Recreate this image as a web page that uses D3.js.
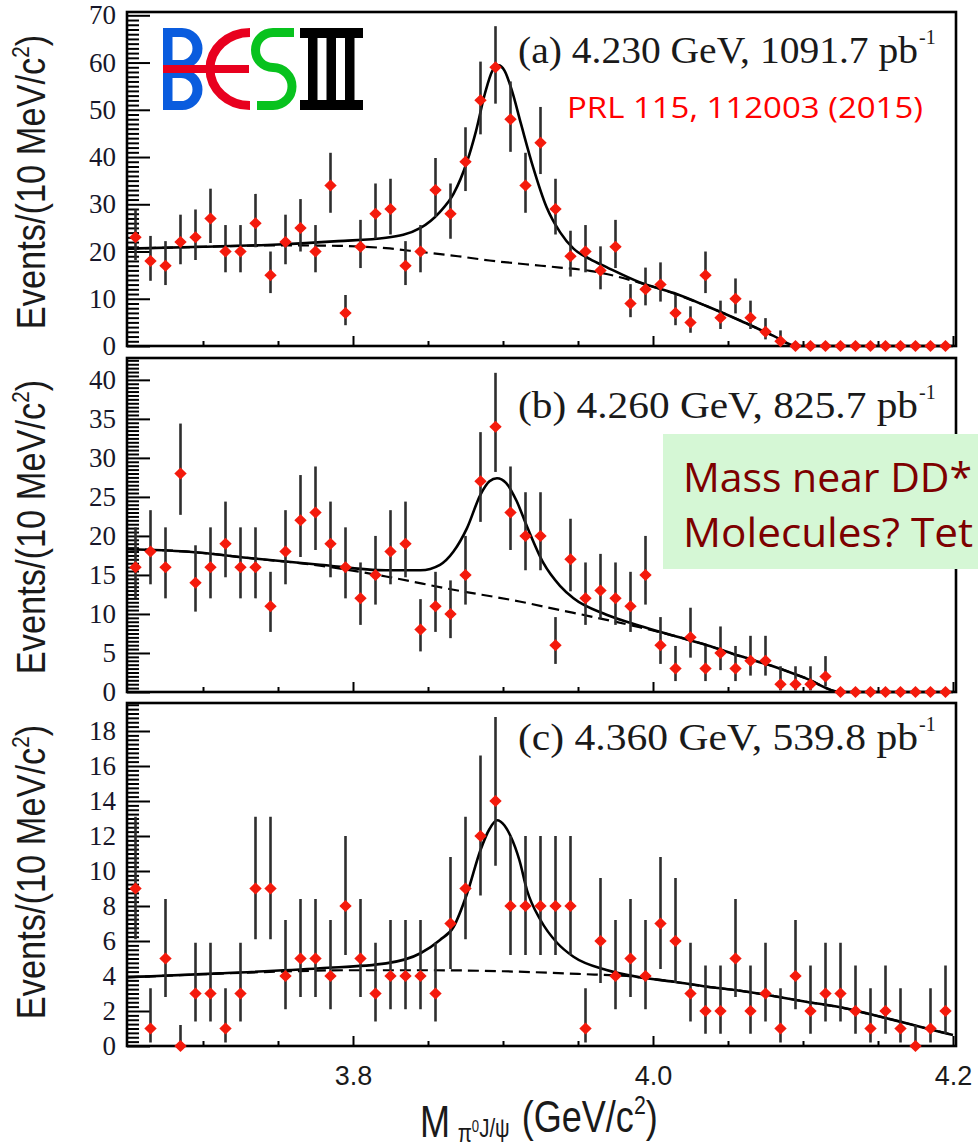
<!DOCTYPE html>
<html>
<head>
<meta charset="utf-8">
<script src="https://cdn.jsdelivr.net/npm/d3@7"></script>
<style>
  html, body { margin: 0; padding: 0; background: #fff; overflow: hidden; }
  svg { display: block; }
</style>
</head>
<body>
<svg id="chart" width="978" height="1147"></svg>
<script>
// ---- data -------------------------------------------------------------
// bin centres of the pi0 J/psi invariant mass, GeV/c^2 (10 MeV bins)
const massBins = [3.655,3.665,3.675,3.685,3.695,3.705,3.715,3.725,3.735,3.745,3.755,3.765,3.775,3.785,3.795,3.805,3.815,3.825,3.835,3.845,3.855,3.865,3.875,3.885,3.895,3.905,3.915,3.925,3.935,3.945,3.955,3.965,3.975,3.985,3.995,4.005,4.015,4.025,4.035,4.045,4.055,4.065,4.075,4.085,4.095,4.105,4.115,4.125,4.135,4.145,4.155,4.165,4.175,4.185,4.195];

// (a) 4.230 GeV
const countsA = [23,18,17,22,23,27,20,20,26,15,22,25,20,34,7,21,28,29,17,20,33,28,39,52,59,48,34,43,29,19,20,16,21,9,12,13,7,5,15,6,10,6,3,1,0,0,0,0,0,0,0,0,0,0,0];
const errLoA = [4.8,4.2,4.1,4.7,4.8,5.2,4.4,4.4,5.1,3.8,4.7,5.0,4.4,5.8,2.6,4.5,5.3,5.4,4.1,4.4,5.7,5.3,6.2,7.2,7.7,6.9,5.8,6.6,5.4,4.3,4.4,4.0,4.5,2.9,3.4,3.6,2.6,2.2,3.8,2.4,3.1,2.4,1.6,0.8,0,0,0,0,0,0,0,0,0,0,0];
const errHiA = [5.9,5.3,5.2,5.8,5.9,6.3,5.6,5.6,6.2,5.0,5.8,6.1,5.6,6.9,3.8,5.7,6.4,6.4,5.2,5.6,6.8,6.4,7.3,8.2,8.7,8.0,6.9,7.6,6.4,5.4,5.6,5.1,5.7,4.1,4.6,4.7,3.8,3.4,5.0,3.6,4.3,3.6,2.9,2.3,0,0,0,0,0,0,0,0,0,0,0];

// (b) 4.260 GeV
const countsB = [16,18,16,28,14,16,19,16,16,11,18,22,23,19,16,12,15,18,19,8,11,10,15,27,34,23,20,20,6,17,12,13,12,11,15,6,3,7,3,5,3,4,4,1,1,1,2,0,0,0,0,0,0,0,0];
const errLoB = [4.0,4.2,4.0,5.3,3.7,4.0,4.3,4.0,4.0,3.3,4.2,4.7,4.8,4.3,4.0,3.4,3.8,4.2,4.3,2.8,3.3,3.1,3.8,5.2,5.8,4.8,4.4,4.4,2.4,4.1,3.4,3.6,3.4,3.3,3.8,2.4,1.6,2.6,1.6,2.2,1.6,1.9,1.9,0.8,0.8,0.8,1.3,0,0,0,0,0,0,0,0];
const errHiB = [5.1,5.3,5.1,6.4,4.8,5.1,5.4,5.1,5.1,4.4,5.3,5.8,5.9,5.4,5.1,4.6,5.0,5.3,5.4,3.9,4.4,4.3,5.0,6.3,6.9,5.9,5.6,5.6,3.6,5.2,4.6,4.7,4.6,4.4,5.0,3.6,2.9,3.8,2.9,3.4,2.9,3.2,3.2,2.3,2.3,2.3,2.6,0,0,0,0,0,0,0,0];

// (c) 4.360 GeV
const countsC = [9,1,5,0,3,3,1,3,9,9,4,5,5,4,8,5,3,4,4,4,3,7,9,12,14,8,8,8,8,8,1,6,4,5,4,7,6,3,2,2,5,2,3,1,4,2,3,3,2,1,2,1,0,1,2];
const errLoC = [2.9,0.8,2.2,0,1.6,1.6,0.8,1.6,2.9,2.9,1.9,2.2,2.2,1.9,2.8,2.2,1.6,1.9,1.9,1.9,1.6,2.6,2.9,3.4,3.7,2.8,2.8,2.8,2.8,2.8,0.8,2.4,1.9,2.2,1.9,2.6,2.4,1.6,1.3,1.3,2.2,1.3,1.6,0.8,1.9,1.3,1.6,1.6,1.3,0.8,1.3,0.8,0,0.8,1.3];
const errHiC = [4.1,2.3,3.4,1.2,2.9,2.9,2.3,2.9,4.1,4.1,3.2,3.4,3.4,3.2,4.0,3.4,2.9,3.2,3.2,3.2,2.9,3.8,4.1,4.6,4.8,4.0,4.0,4.0,4.0,4.0,2.3,3.6,3.2,3.4,3.2,3.8,3.6,2.9,2.6,2.6,3.4,2.6,2.9,2.3,3.2,2.6,2.9,2.9,2.6,2.3,2.6,2.3,1.2,2.3,2.6];

// fit results: total (signal + background) and background only, [mass, events]
const fitTotalA = [[3.650,20.6],[3.700,21.0],[3.750,21.5],[3.790,22.2],[3.822,22.9],[3.845,25.0],[3.858,28.4],[3.867,32.2],[3.876,39.0],[3.882,45.5],[3.888,53.5],[3.893,58.3],[3.897,59.4],[3.901,58.3],[3.906,54.0],[3.912,47.0],[3.920,37.9],[3.929,29.4],[3.938,24.1],[3.947,20.6],[3.958,18.4],[3.969,16.7],[3.991,13.5],[4.014,11.2],[4.036,8.4],[4.058,5.4],[4.080,2.2],[4.096,0],[4.200,0]];
const fitBkgA = [[3.650,20.6],[3.700,21.0],[3.750,21.3],[3.790,21.2],[3.822,20.7],[3.845,19.9],[3.870,19.0],[3.891,18.1],[3.915,17.3],[3.938,16.6],[3.958,15.9],[3.975,14.8],[3.991,13.4],[4.014,11.1],[4.036,8.4],[4.058,5.4],[4.080,2.2],[4.096,0],[4.200,0]];

const fitTotalB = [[3.650,18.3],[3.689,18.0],[3.734,17.1],[3.778,16.3],[3.822,15.6],[3.845,15.6],[3.858,16.3],[3.867,18.0],[3.876,21.0],[3.885,25.3],[3.891,27.0],[3.896,27.4],[3.902,26.8],[3.909,24.5],[3.916,21.2],[3.927,16.5],[3.938,13.6],[3.947,12.0],[3.969,9.9],[3.991,8.5],[4.014,7.2],[4.036,6.0],[4.058,4.6],[4.080,3.3],[4.102,1.75],[4.125,0],[4.200,0]];
const fitBkgB = [[3.650,18.3],[3.689,18.0],[3.734,17.1],[3.778,16.2],[3.822,14.8],[3.867,13.1],[3.911,11.6],[3.938,10.5],[3.958,9.7],[3.991,8.3],[4.014,7.2],[4.036,6.0],[4.058,4.6],[4.080,3.3],[4.102,1.75],[4.125,0],[4.200,0]];

const fitTotalC = [[3.650,3.93],[3.711,4.15],[3.778,4.44],[3.822,4.72],[3.845,5.3],[3.858,6.06],[3.867,6.8],[3.876,8.7],[3.885,11.2],[3.891,12.4],[3.896,12.9],[3.901,12.6],[3.905,12.0],[3.911,10.6],[3.916,8.9],[3.925,7.2],[3.936,5.9],[3.947,5.1],[3.969,4.34],[3.991,3.93],[4.014,3.67],[4.036,3.39],[4.058,3.16],[4.080,2.86],[4.102,2.53],[4.125,2.21],[4.147,1.77],[4.169,1.30],[4.191,0.82],[4.200,0.63]];
const fitBkgC = [[3.650,3.93],[3.700,4.10],[3.750,4.25],[3.800,4.33],[3.850,4.33],[3.900,4.27],[3.950,4.12],[3.991,3.93],[4.014,3.67],[4.036,3.39],[4.058,3.16],[4.080,2.86],[4.102,2.53],[4.125,2.21],[4.147,1.77],[4.169,1.30],[4.191,0.82],[4.200,0.63]];

// axis tick labels
const yTicksA = [0,10,20,30,40,50,60,70];
const yTicksB = [0,5,10,15,20,25,30,35,40];
const yTicksC = [0,2,4,6,8,10,12,14,16,18];
const xTicksMajor = [3.8, 4.0, 4.2];
const xTicksMinor = [3.70, 3.75, 3.85, 3.90, 3.95, 4.05, 4.10, 4.15];

// panel captions
const captionA = ["(a) 4.230 GeV, 1091.7 pb", "-1"];
const captionB = ["(b) 4.260 GeV, 825.7 pb", "-1"];
const captionC = ["(c) 4.360 GeV, 539.8 pb", "-1"];

// ---- drawing ----------------------------------------------------------
const W = 978, H = 1147;
const svg = d3.select("#chart");
svg.append("rect").attr("width", W).attr("height", H).attr("fill", "#fff");

const frameLeft = 127, frameRight = 956;
const x = d3.scaleLinear().domain([3.65, 4.2]).range([128, 953]);

const panelLayout = [
  { top: 12,  bottom: 346,  yMax: 70.7, minorStep: 1,    captionY: 63,  titleY: 182 },
  { top: 358, bottom: 692,  yMax: 42.8, minorStep: 0.5,  captionY: 418, titleY: 527 },
  { top: 703, bottom: 1046, yMax: 19.6, minorStep: 0.25, captionY: 750, titleY: 872 }
];

const panelData = [
  { counts: countsA, lo: errLoA, hi: errHiA, total: fitTotalA, bkg: fitBkgA, ticks: yTicksA, caption: captionA },
  { counts: countsB, lo: errLoB, hi: errHiB, total: fitTotalB, bkg: fitBkgB, ticks: yTicksB, caption: captionB },
  { counts: countsC, lo: errLoC, hi: errHiC, total: fitTotalC, bkg: fitBkgC, ticks: yTicksC, caption: captionC }
];

const serif = "'Liberation Serif', 'Times New Roman', serif";
const sans = "'Liberation Sans', Arial, sans-serif";
const calibriLike = "'Open Sans', 'Noto Sans', sans-serif";

panelLayout.forEach((L, i) => {
  const D = panelData[i];
  const y = d3.scaleLinear().domain([0, L.yMax]).range([L.bottom, L.top]);
  const g = svg.append("g");

  // frame
  g.append("rect")
    .attr("x", frameLeft).attr("y", L.top)
    .attr("width", frameRight - frameLeft).attr("height", L.bottom - L.top)
    .attr("fill", "none").attr("stroke", "#000").attr("stroke-width", 2.6);

  // y axis: minor then major ticks, pointing into the frame
  const minorVals = d3.range(0, L.yMax, L.minorStep)
    .filter(v => !D.ticks.some(t => Math.abs(t - v) < 1e-6));
  g.append("g").attr("transform", `translate(${frameLeft},0)`)
    .call(d3.axisLeft(y).tickValues(minorVals).tickSizeInner(-12).tickSizeOuter(0).tickFormat(""))
    .call(a => a.select(".domain").remove())
    .call(a => a.selectAll("line").attr("stroke", "#000").attr("stroke-width", 2));
  g.append("g").attr("transform", `translate(${frameLeft},0)`)
    .call(d3.axisLeft(y).tickValues(D.ticks).tickSizeInner(-23).tickSizeOuter(0).tickPadding(11).tickFormat(d3.format("d")))
    .call(a => a.select(".domain").remove())
    .call(a => a.selectAll("line").attr("stroke", "#000").attr("stroke-width", 2))
    .call(a => a.selectAll("text")
      .attr("font-family", serif).attr("font-size", 27).attr("fill", "#17172a"));

  // x axis ticks
  g.append("g").attr("transform", `translate(0,${L.bottom})`)
    .call(d3.axisBottom(x).tickValues(xTicksMinor).tickSizeInner(-5).tickSizeOuter(0).tickFormat(""))
    .call(a => a.select(".domain").remove())
    .call(a => a.selectAll("line").attr("stroke", "#000").attr("stroke-width", 2));
  const xMajor = g.append("g").attr("transform", `translate(0,${L.bottom})`)
    .call(d3.axisBottom(x).tickValues(xTicksMajor).tickSizeInner(-10).tickSizeOuter(0)
      .tickFormat(i === 2 ? d3.format(".1f") : ""))
    .call(a => a.select(".domain").remove())
    .call(a => a.selectAll("line").attr("stroke", "#000").attr("stroke-width", 2));
  if (i === 2) {
    xMajor.selectAll("text")
      .attr("y", 39).attr("dy", 0)
      .attr("font-family", sans).attr("font-size", 27).attr("fill", "#1a1a1a");
  }

  // fit curves
  const line = d3.line().x(d => x(d[0])).y(d => y(d[1])).curve(d3.curveMonotoneX);
  g.append("path").datum(D.bkg).attr("d", line)
    .attr("fill", "none").attr("stroke", "#000").attr("stroke-width", 2.2)
    .attr("stroke-dasharray", "11,6");
  g.append("path").datum(D.total).attr("d", line)
    .attr("fill", "none").attr("stroke", "#000").attr("stroke-width", 2.6);

  // data points with asymmetric error bars
  const pts = massBins.map((m, k) => ({ m, n: D.counts[k], lo: D.lo[k], hi: D.hi[k] }));
  g.append("g").selectAll("line").data(pts.filter(p => p.lo > 0 || p.hi > 0)).join("line")
    .attr("x1", p => x(p.m)).attr("x2", p => x(p.m))
    .attr("y1", p => y(p.n + p.hi)).attr("y2", p => y(p.n - p.lo))
    .attr("stroke", "#2e2e2e").attr("stroke-width", 2.6);
  g.append("g").selectAll("path").data(pts).join("path")
    .attr("transform", p => `translate(${x(p.m)},${y(p.n)})`)
    .attr("d", "M0,-6L6.2,0L0,6L-6.2,0Z")
    .attr("fill", "#f41a0c");

  // caption
  g.append("text").attr("x", 518).attr("y", L.captionY)
    .attr("font-family", serif).attr("font-size", 38).attr("fill", "#1a1a1a")
    .attr("textLength", 400).attr("lengthAdjust", "spacingAndGlyphs")
    .text(D.caption[0]);
  g.append("text").attr("x", 919).attr("y", L.captionY - 19)
    .attr("font-family", serif).attr("font-size", 20).attr("fill", "#1a1a1a")
    .text(D.caption[1]);

  // y axis title (condensed sans)
  const t = svg.append("text")
    .attr("transform", `translate(45,${L.titleY}) rotate(-90) scale(0.86,1)`)
    .attr("text-anchor", "middle")
    .attr("font-family", sans).attr("font-size", 40).attr("fill", "#1a1a1a");
  t.append("tspan").text("Events/(10 MeV/c");
  t.append("tspan").attr("font-size", 24).attr("dy", -16).text("2");
  t.append("tspan").attr("dy", 16).text(")");
});

// x axis title (condensed sans)
const xt = svg.append("text")
  .attr("transform", "translate(420,1137) scale(0.82,1)")
  .attr("font-family", sans).attr("font-size", 44).attr("fill", "#1a1a1a");
xt.append("tspan").attr("x", 0).text("M");
xt.append("tspan").attr("x", 46).attr("dy", 5).attr("font-size", 25).text("\u03C0");
xt.append("tspan").attr("dy", -10).attr("font-size", 16).text("0");
xt.append("tspan").attr("dy", 5).attr("font-size", 25).text("J/\u03C8");
xt.append("tspan").attr("x", 124).attr("dy", -5).text("(GeV/c");
xt.append("tspan").attr("dy", -18).attr("font-size", 26).text("2");
xt.append("tspan").attr("dy", 18).text(")");

// publication reference
svg.append("text").attr("x", 567).attr("y", 118)
  .attr("font-family", calibriLike).attr("font-size", 29)
  .attr("fill", "#ff0000").attr("textLength", 356).attr("lengthAdjust", "spacingAndGlyphs")
  .text("PRL 115, 112003 (2015)");

// annotation box
svg.append("rect").attr("x", 663).attr("y", 434).attr("width", 330).attr("height", 135)
  .attr("fill", "#d5f7d5");
const note = svg.append("g").attr("font-family", calibriLike)
  .attr("font-size", 40).attr("fill", "#7d0000");
note.append("text").attr("x", 683).attr("y", 492)
  .attr("textLength", 289).attr("lengthAdjust", "spacingAndGlyphs").text("Mass near DD*");
note.append("text").attr("x", 683).attr("y", 547)
  .attr("textLength", 290).attr("lengthAdjust", "spacingAndGlyphs").text("Molecules? Tet");

// BESIII logo
const logo = svg.append("g");
logo.append("path")
  .attr("d", "M163,28H182A20.5,20.5 0 0 1 182,69A20.5,20.5 0 0 1 182,110H163Z" +
             "M172.5,37H181A11.5,11.5 0 0 1 181,60H172.5Z" +
             "M172.5,78H181A11.5,11.5 0 0 1 181,101H172.5Z")
  .attr("fill", "#0a5cde").attr("fill-rule", "evenodd");
logo.append("path")
  .attr("d", "M250,32.5A40,36.5 0 0 0 250,105.5")
  .attr("fill", "none").attr("stroke", "#e8001e").attr("stroke-width", 9);
logo.append("rect").attr("x", 163).attr("y", 65).attr("width", 86).attr("height", 8)
  .attr("fill", "#e8001e");
logo.append("path")
  .attr("d", "M294,32.5H273A17.5,17.5 0 0 0 273,67.5A19,19 0 0 1 273,105.5H257")
  .attr("fill", "none").attr("stroke", "#08c21e").attr("stroke-width", 9);
const roman = logo.append("g").attr("fill", "#000");
roman.append("rect").attr("x", 300).attr("y", 28).attr("width", 63).attr("height", 10);
roman.append("rect").attr("x", 300).attr("y", 100).attr("width", 63).attr("height", 10);
[308, 326.5, 345].forEach(sx =>
  roman.append("rect").attr("x", sx).attr("y", 37).attr("width", 9.5).attr("height", 64));
</script>
</body>
</html>
